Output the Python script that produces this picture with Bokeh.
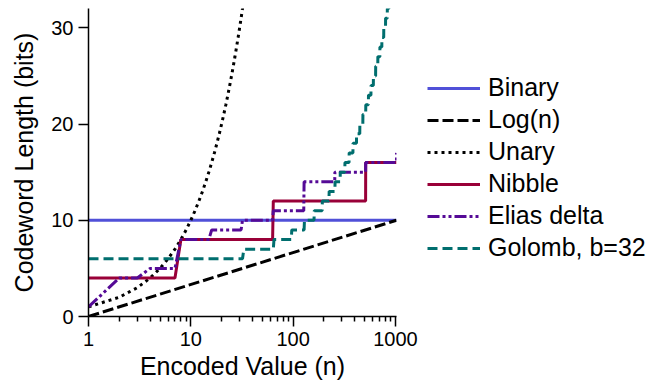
from bokeh.plotting import figure
from bokeh.layouts import row
from bokeh.models import Range1d, FixedTicker, Legend, LegendItem
from bokeh.embed import file_html
from bokeh.resources import INLINE

# ---- data ----
binary_x = [1, 1024]
binary_y = [10, 10]

log_x = [1, 1024]
log_y = [0, 10]

unary_x = [1, 2, 3, 4, 5, 6, 7, 8, 9, 10, 11, 12, 13, 14, 15, 16,
           17, 18, 19, 20, 21, 22, 23, 24, 25, 26, 27, 28, 29, 30, 31, 32, 33]
unary_y = [1, 2, 3, 4, 5, 6, 7, 8, 9, 10, 11, 12, 13, 14, 15, 16,
           17, 18, 19, 20, 21, 22, 23, 24, 25, 26, 27, 28, 29, 30, 31, 32, 33]

nibble_x = [1, 7, 8, 63, 64, 511, 512, 1024]
nibble_y = [4, 4, 8, 8, 12, 12, 16, 16]

elias_x = [1, 2, 3, 4, 7, 8, 15, 16, 31, 32, 63, 64, 127, 128, 255, 256, 511, 512, 1023, 1024]
elias_y = [1, 4, 4, 5, 5, 8, 8, 9, 9, 10, 10, 11, 11, 14, 14, 15, 15, 16, 16, 17]

golomb_starts = [1, 33, 65, 97, 129, 161, 193, 225, 257, 289, 321, 353, 385, 417,
                 449, 481, 513, 545, 577, 609, 641, 673, 705, 737, 769, 801, 833, 865, 897]
golomb_bits = [6, 7, 8, 9, 10, 11, 12, 13, 14, 15, 16, 17, 18, 19,
               20, 21, 22, 23, 24, 25, 26, 27, 28, 29, 30, 31, 32, 33, 34]

series_names = ["Binary", "Log(n)", "Unary", "Nibble", "Elias delta", "Golomb, b=32"]

x_major = [1, 10, 100, 1000]
x_minor = [2, 3, 4, 5, 6, 7, 8, 9, 20, 30, 40, 50, 60, 70, 80, 90,
           200, 300, 400, 500, 600, 700, 800, 900]
y_major = [0, 10, 20, 30]

# build Golomb step series from its breakpoints
golomb_x, golomb_y = [], []
for i, (s, b) in enumerate(zip(golomb_starts, golomb_bits)):
    golomb_x.append(s)
    golomb_y.append(b)
    if i + 1 < len(golomb_starts):
        golomb_x.append(golomb_starts[i + 1] - 1)
        golomb_y.append(b)

FONT = "Liberation Sans"

styles = [
    dict(line_color="#5050d8", line_width=3),
    dict(line_color="black", line_width=3, line_dash="11 4"),
    dict(line_color="black", line_width=3, line_dash="3 4"),
    dict(line_color="#990038", line_width=3),
    dict(line_color="#550a96", line_width=3, line_dash="12 3 3 3 3 3"),
    dict(line_color="#006e6e", line_width=3, line_dash="10 5"),
]
series = [(binary_x, binary_y), (log_x, log_y), (unary_x, unary_y),
          (nibble_x, nibble_y), (elias_x, elias_y), (golomb_x, golomb_y)]

p = figure(width=420, height=382, x_axis_type="log",
           x_range=Range1d(1, 1024), y_range=Range1d(0, 32),
           output_backend="svg", toolbar_location=None,
           min_border_left=88, min_border_right=24,
           min_border_top=8, min_border_bottom=66)
p.outline_line_color = None
p.xgrid.visible = False
p.ygrid.visible = False
p.background_fill_color = "white"
p.border_fill_color = "white"

for (xs, ys), st in zip(series, styles):
    p.line(xs, ys, **st)

for ax in (p.xaxis[0], p.yaxis[0]):
    ax.axis_line_color = "black"
    ax.axis_line_width = 1.5
    ax.major_tick_line_color = "black"
    ax.major_tick_line_width = 1.5
    ax.minor_tick_line_color = "black"
    ax.minor_tick_line_width = 1.5
    ax.major_tick_in = 0
    ax.major_tick_out = 10
    ax.minor_tick_in = 0
    ax.minor_tick_out = 5
    ax.major_label_text_font = FONT
    ax.major_label_text_font_size = "20px"
    ax.major_label_text_color = "black"
    ax.axis_label_text_font = FONT
    ax.axis_label_text_font_size = "25px"
    ax.axis_label_text_font_style = "normal"
    ax.axis_label_text_color = "black"
    ax.major_label_standoff = 5

p.xaxis.ticker = FixedTicker(ticks=x_major, minor_ticks=x_minor)
p.xaxis.major_label_overrides = {1: "1", 10: "10", 100: "100", 1000: "1000"}
p.yaxis.ticker = FixedTicker(ticks=y_major, minor_ticks=[])
p.xaxis.axis_label = "Encoded Value (n)"
p.yaxis.axis_label = "Codeword Length (bits)"
p.xaxis.axis_label_standoff = 3
p.yaxis.axis_label_standoff = 10

# legend panel (separate figure at the right; its sample lines lie off-range)
lg = figure(width=230, height=382, x_range=Range1d(0, 1), y_range=Range1d(0, 1),
            output_backend="svg", toolbar_location=None,
            min_border=0, min_border_left=0, min_border_right=0,
            min_border_top=0, min_border_bottom=0)
lg.axis.visible = False
lg.grid.visible = False
lg.outline_line_color = None
lg.background_fill_color = "white"
lg.border_fill_color = "white"
items = []
for name, st in zip(series_names, styles):
    r = lg.line([-5, -4], [-5, -4], **st)
    items.append(LegendItem(label=name, renderers=[r]))

legend = Legend(items=items, location=(7, 54))
legend.border_line_alpha = 0
legend.background_fill_alpha = 0
legend.padding = 0
legend.margin = 0
legend.spacing = 3
legend.glyph_width = 53
legend.glyph_height = 24
legend.label_height = 24
legend.label_standoff = 8
legend.label_text_font = FONT
legend.label_text_font_size = "25px"
legend.label_text_color = "black"
legend.label_text_baseline = "middle"
lg.add_layout(legend, "center")

layout = row(p, lg)
open("out.html", "w").write(file_html(layout, INLINE))
